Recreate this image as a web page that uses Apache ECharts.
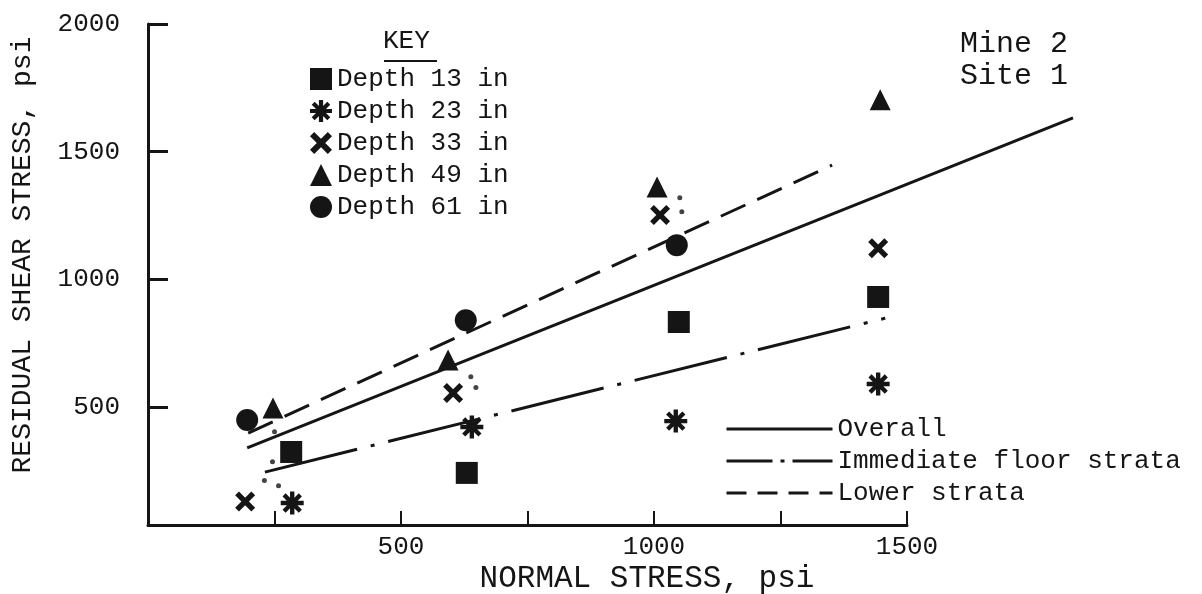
<!DOCTYPE html>
<html><head><meta charset="utf-8">
<script src="https://cdn.jsdelivr.net/npm/echarts@6/dist/echarts.min.js"></script>
<style>html,body{margin:0;padding:0;background:#fff}#c{width:1202px;height:594px}</style>
</head><body><div id="c"></div>
<script>
// ---- data (normal stress, residual shear stress) in psi ----
const depth13 = [[283,324],[630,242],[1049,833],[1443,931]];
const depth23 = [[285,124],[640,422],[1043,445],[1443,590]];
const depth33 = [[192,130],[603,555],[1012,1252],[1443,1122]];
const depth49 = [[247,496],[593,684],[1006,1362],[1447,1703]];
const depth61 = [[196,449],[628,840],[1045,1134]];
const dotMarks = [[246,286],[230,212],[258,192],[250,403],[1051,1320],[1055,1265],[638,619],[648,576]];
const overallLine = [[196,340],[1828,1632]];
const floorLine = [[231,245],[1457,848]];
const lowerLine = [[198,398],[1352,1447]];
const xTickLabels = [500,1000,1500];
const yTickLabels = [500,1000,1500,2000];
const depthNames = ['Depth 13 in','Depth 23 in','Depth 33 in','Depth 49 in','Depth 61 in'];
const lineNames = ['Overall','Immediate floor strata','Lower strata'];

const FONT = 'Liberation Mono';
const INK = '#151515';
const ASTER = 'path://M-1.9,-10 L1.9,-10 L1.9,10 L-1.9,10 Z M-10,-1.9 L10,-1.9 L10,1.9 L-10,1.9 Z M-8.41,-5.73 L-5.73,-8.41 L8.41,5.73 L5.73,8.41 Z M-5.73,8.41 L-8.41,5.73 L5.73,-8.41 L8.41,-5.73 Z';
const CROSS = 'path://M-8.7,-5.4 L-5.4,-8.7 L8.7,5.4 L5.4,8.7 Z M-5.4,8.7 L-8.7,5.4 L5.4,-8.7 L8.7,-5.4 Z';
const DASHDOT = [95,14,4,14];
const DASH = [27,13];

function scatter(name, data, symbol, size) {
  return {type:'scatter', name, data, symbol, symbolSize:size, itemStyle:{color:INK, opacity:1}, z:5};
}
function line(name, data, type, gi) {
  return {type:'line', name, data, symbol:'none', clip:false, silent:true,
    xAxisIndex:gi, yAxisIndex:gi, itemStyle:{color:INK},
    lineStyle:{color:INK, width:3, type}, z:3};
}
const plain = v => String(v);

const chart = echarts.init(document.getElementById('c'), null, {renderer:'canvas'});
chart.setOption({
  animation:false,
  backgroundColor:'#fff',
  textStyle:{fontFamily:FONT, color:INK},
  grid:[{left:148, right:295, top:24, bottom:69},
        {left:148, right:128, top:24, bottom:69}],
  xAxis:[{type:'value', min:0, max:1500, interval:250, gridIndex:0,
    axisLine:{lineStyle:{color:INK, width:3}},
    axisTick:{inside:true, length:14, lineStyle:{color:INK, width:2}},
    axisLabel:{customValues:xTickLabels, formatter:plain, fontFamily:FONT, fontSize:26, color:INK, margin:9},
    splitLine:{show:false}},
    {type:'value', min:0, max:1830, gridIndex:1, show:false}],
  yAxis:[{type:'value', min:38, max:2000, gridIndex:0,
    axisLine:{show:true, lineStyle:{color:INK, width:3}},
    axisTick:{show:true, inside:true, length:20, customValues:yTickLabels, lineStyle:{color:INK, width:3}},
    axisLabel:{customValues:yTickLabels, formatter:plain, fontFamily:FONT, fontSize:26, color:INK, margin:28},
    splitLine:{show:false}},
    {type:'value', min:38, max:2000, gridIndex:1, show:false}],
  legend:[
    {orient:'vertical', left:305, top:61, itemWidth:22, itemHeight:22, itemGap:6,
     selectedMode:false, data:depthNames,
     textStyle:{fontFamily:FONT, fontSize:26, color:INK}},
    {orient:'vertical', left:720, top:411, itemWidth:106, itemHeight:14, itemGap:6,
     selectedMode:false,
     data:[
       {name:lineNames[0], itemStyle:{opacity:0}, lineStyle:{color:INK, width:3, type:'solid'}},
       {name:lineNames[1], itemStyle:{opacity:0}, lineStyle:{color:INK, width:3, type:[46,8,4,8]}},
       {name:lineNames[2], itemStyle:{opacity:0}, lineStyle:{color:INK, width:3, type:[20,11]}}
     ],
     textStyle:{fontFamily:FONT, fontSize:26, color:INK}}
  ],
  graphic:[
    {type:'text', left:383, top:28, style:{text:'KEY', font:'26px "Liberation Mono"', fill:INK}},
    {type:'line', shape:{x1:384, y1:61, x2:437, y2:61}, style:{stroke:INK, lineWidth:2}},
    {type:'text', left:960, top:28, style:{text:'Mine 2\nSite 1', font:'30px "Liberation Mono"', fill:INK, lineHeight:32}},
    {type:'text', x:647, y:579, style:{text:'NORMAL STRESS, psi', font:'31px "Liberation Mono"', fill:INK, align:'center', verticalAlign:'middle'}},
    {type:'text', x:23, y:255, rotation:Math.PI/2, style:{text:'RESIDUAL SHEAR STRESS, psi', font:'28px "Liberation Mono"', fill:INK, align:'center', verticalAlign:'middle'}}
  ],
  series:[
    line(lineNames[0], overallLine, 'solid', 1),
    line(lineNames[1], floorLine, DASHDOT, 0),
    line(lineNames[2], lowerLine, DASH, 0),
    scatter(depthNames[0], depth13, 'rect', 22),
    scatter(depthNames[1], depth23, ASTER, 23),
    scatter(depthNames[2], depth33, CROSS, 20),
    scatter(depthNames[3], depth49, 'triangle', 21),
    scatter(depthNames[4], depth61, 'circle', 22),
    {type:'scatter', name:'dots', data:dotMarks, symbol:'circle', symbolSize:5, itemStyle:{color:INK}, silent:true, z:4}
  ]
});
</script></body></html>
